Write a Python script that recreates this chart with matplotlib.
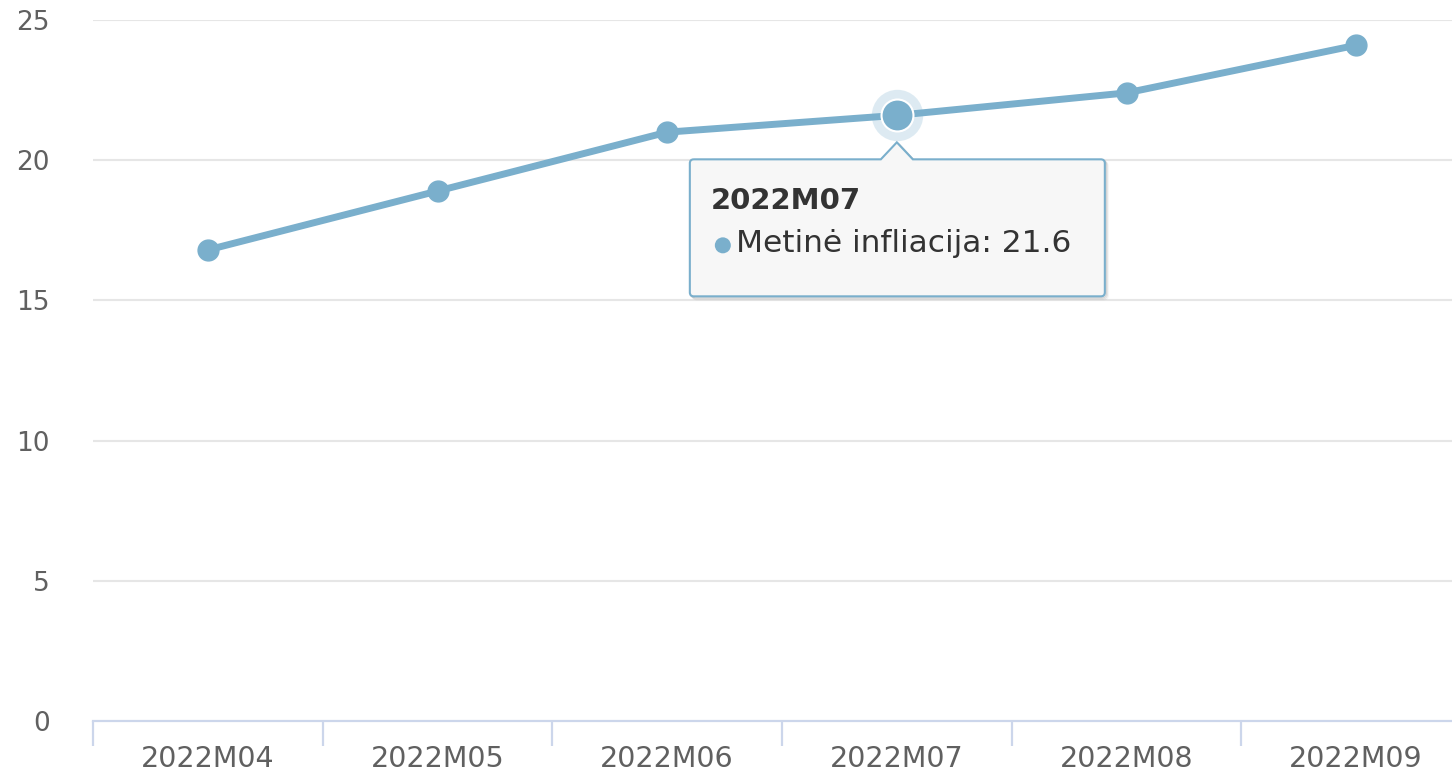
import matplotlib
matplotlib.use("Agg")
import matplotlib.pyplot as plt
import matplotlib.transforms as mtransforms
from matplotlib.path import Path
from matplotlib.patches import PathPatch, Circle
import numpy as np

categories = ["2022M04", "2022M05", "2022M06", "2022M07", "2022M08", "2022M09"]
values = [16.8, 18.9, 21.0, 21.6, 22.4, 24.1]
series_name = "Metinė infliacija"
y_ticks = [0, 5, 10, 15, 20, 25]
hover_index = 3

color = "#7aafcc"
W, H = 1452, 778
fig = plt.figure(figsize=(W / 100, H / 100), dpi=100)
left, right, bottom, top = 93, 1471, 721, 20
ax = fig.add_axes([left / W, 1 - bottom / H, (right - left) / W, (bottom - top) / H])
ax.set_xlim(-0.5, len(categories) - 0.5)
ax.set_ylim(0, 25)

for s in ["top", "right", "left"]:
    ax.spines[s].set_visible(False)
ax.spines["bottom"].set_color("#ccd6eb")
ax.spines["bottom"].set_linewidth(1.6)

ax.set_yticks(y_ticks)
ax.set_yticklabels([str(t) for t in y_ticks])
ax.tick_params(axis="y", length=0, pad=31, labelsize=19, labelcolor="#606060")
for t in y_ticks[1:]:
    ax.axhline(t, color="#e6e6e6", lw=1.5, zorder=0)

x = np.arange(len(categories))
ax.set_xticks(x)
ax.set_xticklabels(categories)
ax.tick_params(axis="x", which="major", length=0, pad=17, labelsize=20.5, labelcolor="#606060")
ax.set_xticks(np.arange(len(categories) + 1) - 0.5, minor=True)
ax.tick_params(axis="x", which="minor", length=18, width=1.6, color="#ccd6eb")

ax.plot(x, values, color=color, lw=5, marker="o", ms=15, zorder=3, solid_capstyle="round")

# hovered point halo
ax.plot([x[hover_index]], [values[hover_index]], "o", ms=37, color=color, alpha=0.25,
        mec="none", zorder=4, clip_on=False)
ax.plot([x[hover_index]], [values[hover_index]], "o", ms=23, color=color,
        mec="white", mew=1.5, zorder=5, clip_on=False)

# tooltip (pixel offsets relative to the hovered point)
tr = mtransforms.Affine2D() + mtransforms.ScaledTranslation(x[hover_index], values[hover_index], ax.transData)
bl, br, bt, bb = -207, 208, -44, -181
tip = -27
hw = 16
r = 4
verts = [
    (bl + r, bt), (-hw, bt), (0, tip), (hw, bt), (br - r, bt),
    (br, bt), (br, bt - r),
    (br, bb + r),
    (br, bb), (br - r, bb),
    (bl + r, bb),
    (bl, bb), (bl, bb + r),
    (bl, bt - r),
    (bl, bt), (bl + r, bt),
]
codes = [Path.MOVETO, Path.LINETO, Path.LINETO, Path.LINETO, Path.LINETO,
         Path.CURVE3, Path.CURVE3,
         Path.LINETO,
         Path.CURVE3, Path.CURVE3,
         Path.LINETO,
         Path.CURVE3, Path.CURVE3,
         Path.LINETO,
         Path.CURVE3, Path.CURVE3]
path = Path(verts, codes)
for i, a in enumerate([0.10, 0.07, 0.04]):
    sh = PathPatch(path, transform=mtransforms.Affine2D().translate(1 + i, -1 - i) + tr,
                   facecolor="none", edgecolor="black", lw=1.5, alpha=a, zorder=6, clip_on=False)
    fig.add_artist(sh)
box = PathPatch(path, transform=tr, facecolor="#f7f7f7", edgecolor=color, lw=1.5,
                zorder=7, clip_on=False)
fig.add_artist(box)

fig.text(-186, -86, categories[hover_index], transform=tr, fontsize=21, fontweight="bold",
         color="#333333", ha="left", va="center", zorder=8)
dot = Circle((-174, -130), 8, transform=tr, facecolor=color, edgecolor="none", zorder=8)
fig.add_artist(dot)
fig.text(-161, -128, f"{series_name}: {values[hover_index]}", transform=tr, fontsize=22.5,
         color="#333333", ha="left", va="center", zorder=8)

fig.savefig("out.png", dpi=100)
